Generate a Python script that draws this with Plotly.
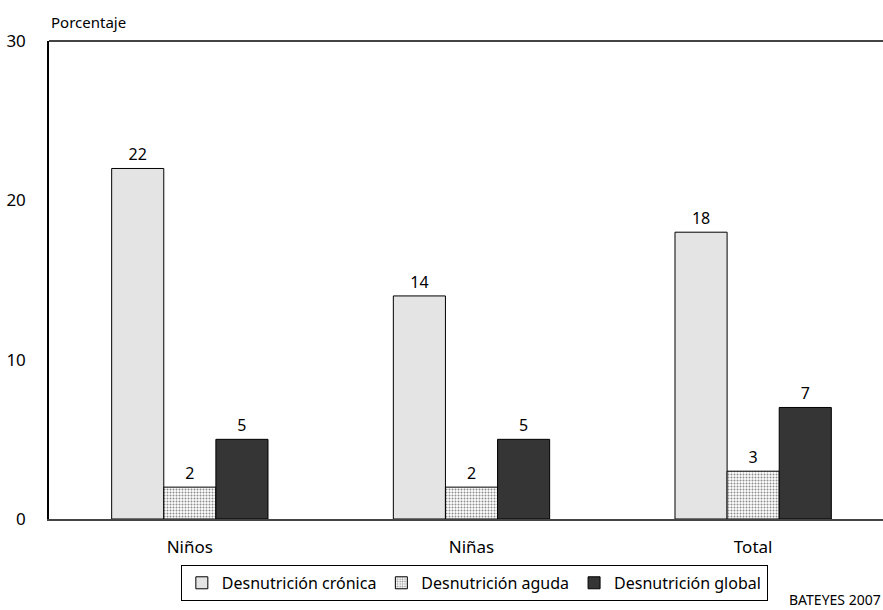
import plotly.graph_objects as go

categories = ["Niños", "Niñas", "Total"]
series_names = ["Desnutrición crónica", "Desnutrición aguda", "Desnutrición global"]
cronica = [22, 14, 18]
aguda = [2, 2, 3]
global_ = [5, 5, 7]
y_ticks = [0, 10, 20, 30]

FONT = "Noto Sans"
styles = [
    dict(bg="#f6f6f6", fg="#cfcfcf", shape=".", size=2, solidity=0.5),
    dict(bg="#ffffff", fg="#8c8c8c", shape=".", size=3, solidity=0.35),
    dict(bg="#181818", fg="#5a5a5a", shape=".", size=2, solidity=0.5),
]

fig = go.Figure()
for name, vals, st in zip(series_names, [cronica, aguda, global_], styles):
    fig.add_trace(go.Bar(
        x=categories, y=vals, name=name,
        text=[str(v) for v in vals], textposition="outside",
        textfont=dict(family=FONT, size=16, color="black"),
        cliponaxis=False,
        marker=dict(color=st["bg"],
                    line=dict(color="black", width=1),
                    pattern=dict(shape=st["shape"], fgcolor=st["fg"], bgcolor=st["bg"],
                                 size=st["size"], solidity=st["solidity"], fillmode="replace")),
    ))

fig.update_layout(
    width=883, height=610,
    margin=dict(l=49, r=0, t=41, b=91, autoexpand=False),
    paper_bgcolor="white", plot_bgcolor="white",
    barmode="group", bargap=0.445, bargroupgap=0,
    font=dict(family=FONT, size=15, color="black"),
    showlegend=True,
    legend=dict(orientation="h", x=0.51, xanchor="center", y=-0.096, yanchor="top",
                bordercolor="black", borderwidth=1, bgcolor="white",
                font=dict(family=FONT, size=16), itemwidth=30,
                tracegroupgap=0, traceorder="normal"),
    xaxis=dict(showgrid=False, showline=True, linecolor="#444", linewidth=2,
               range=[-0.5, 2.461],
               ticks="", tickfont=dict(family=FONT, size=17), ticklabelstandoff=12,
               fixedrange=True, automargin=False),
    yaxis=dict(range=[0, 30], tickvals=y_ticks, showgrid=False, zeroline=False,
               showline=True, linecolor="black", linewidth=1.5, automargin=False,
               ticks="", tickfont=dict(family=FONT, size=17), ticklabelstandoff=18),
    shapes=[dict(type="line", xref="paper", yref="paper", x0=0, x1=1, y0=1, y1=1,
                 line=dict(color="#444", width=2))],
    annotations=[
        dict(text="Porcentaje", xref="paper", yref="paper", x=0.0, y=1.0,
             xanchor="left", yanchor="bottom", yshift=7, showarrow=False,
             font=dict(family=FONT, size=15)),
        dict(text="BATEYES 2007", xref="paper", yref="paper", x=1.0, y=-0.145,
             xanchor="right", yanchor="top", showarrow=False,
             font=dict(family=FONT, size=14)),
    ],
)

fig.write_html("out.html", config={"displayModeBar": False},
               post_script="document.body.style.margin='0';")
